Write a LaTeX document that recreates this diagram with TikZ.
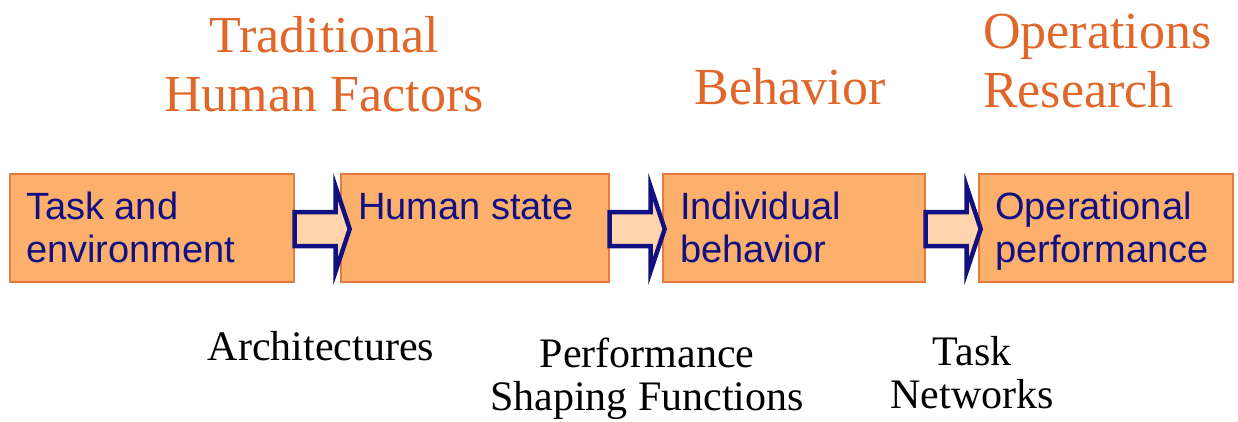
\documentclass[tikz,border=0pt]{standalone}
\usepackage{fontspec}
\setmainfont{Liberation Serif}
\newfontfamily\boxfont{Liberation Sans}
\usetikzlibrary{calc}
\definecolor{boxfill}{RGB}{252,176,108}
\definecolor{boxline}{RGB}{232,122,62}
\definecolor{navy}{RGB}{16,16,130}
\definecolor{arrfill}{RGB}{255,212,172}
\definecolor{hdr}{RGB}{224,102,42}
\tikzset{
  box/.style={draw=boxline, fill=boxfill, line width=1.4pt, minimum height=108pt, inner sep=0pt},
  boxtxt/.style={text=navy, font=\boxfont\fontsize{38}{43}\selectfont, align=left, inner sep=0pt, anchor=base west},
  hdrtxt/.style={text=hdr, font=\fontsize{52}{59}\selectfont, inner sep=0pt, anchor=base},
  subtxt/.style={text=black, font=\fontsize{42}{43}\selectfont, align=center, inner sep=0pt, anchor=base},
  bigarr/.style={draw=navy, fill=arrfill, line width=4.5pt, line join=miter}
}
\newcommand{\fatarrow}[1]{%
  \draw[bigarr] ($(#1.east)+(0,1)$) ++(0,-17) -- ++(41,0) -- ++(0,-25) -- ++(14,42) -- ++(-14,42) -- ++(0,-25) -- ++(-41,0) -- cycle;}
\begin{document}
\begin{tikzpicture}[x=1pt,y=-1pt]
\useasboundingbox (0,0) rectangle (1238,422);
% boxes
\node[box, minimum width=284pt] (b1) at (152,228) {};
\node[box, minimum width=268pt] (b2) at (475,228) {};
\node[box, minimum width=262pt] (b3) at (794,228) {};
\node[box, minimum width=254pt] (b4) at (1106,228) {};
% box texts (base = last line)
\node[boxtxt] (t1) at (26,262) {Task and\\environment};
\node[boxtxt] (t2) at (358,219) {Human state};
\node[boxtxt] (t3) at (680,262) {Individual\\behavior};
\node[boxtxt] (t4) at (995,262) {Operational\\performance};
% arrows
\fatarrow{b1}
\fatarrow{b2}
\fatarrow{b3}
% headers
\node[hdrtxt, align=center] (h1) at (324,112) {Traditional\\Human Factors};
\node[hdrtxt] (h2) at (790,105) {Behavior};
\node[hdrtxt, align=left, anchor=base west] (h3) at (983,108) {Operations\\Research};
% bottom labels
\node[subtxt] (l1) at (321,360) {Architectures};
\node[subtxt] (l2) at (647,410) {Performance\\Shaping Functions};
\node[subtxt] (l3) at (972,408) {Task\\Networks};
\end{tikzpicture}
\end{document}
